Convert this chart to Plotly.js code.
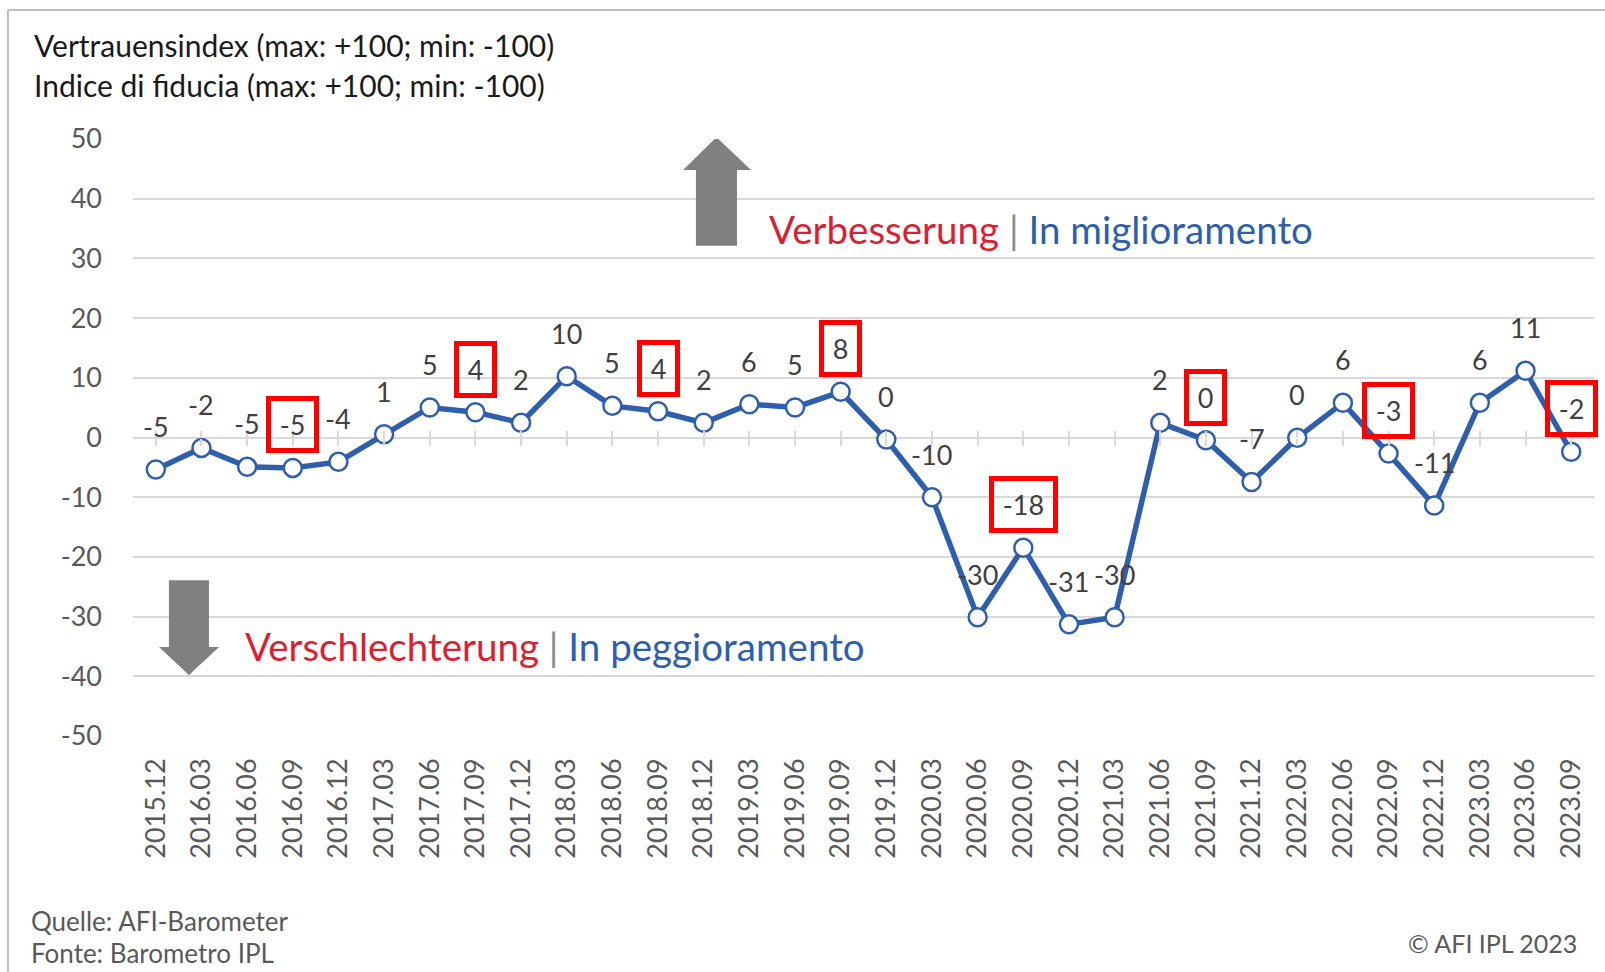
<!DOCTYPE html>
<html><head><meta charset="utf-8">
<script src="https://cdn.plot.ly/plotly-3.0.1.min.js"></script>
<style>html,body{margin:0;padding:0;background:#fff;overflow:hidden}#chart{width:1605px;height:972px}</style>
</head><body><div id="chart"></div>
<script>
// ---- data ----
const quarters = ['2015.12','2016.03','2016.06','2016.09','2016.12','2017.03','2017.06','2017.09','2017.12',
  '2018.03','2018.06','2018.09','2018.12','2019.03','2019.06','2019.09','2019.12','2020.03','2020.06','2020.09',
  '2020.12','2021.03','2021.06','2021.09','2021.12','2022.03','2022.06','2022.09','2022.12','2023.03','2023.06','2023.09'];
const indexValues = [-5.36,-1.74,-4.92,-5.09,-4.08,0.55,5.03,4.24,2.45,
  10.27,5.3,4.4,2.45,5.58,5.03,7.65,-0.34,-10.0,-30.1,-18.45,
  -31.3,-30.1,2.45,-0.45,-7.44,-0.06,5.8,-2.7,-11.4,5.8,11.16,-2.4];
const dataLabels = ['-5','-2','-5','-5','-4','1','5','4','2',
  '10','5','4','2','6','5','8','0','-10','-30','-18',
  '-31','-30','2','0','-7','0','6','-3','-11','6','11','-2'];
const highlighted = ['2016.09','2017.09','2018.09','2019.09','2020.09','2021.09','2022.09','2023.09'];
const yTicks = [-50,-40,-30,-20,-10,0,10,20,30,40,50];

const FONT = 'Lato, "Source Sans Pro", "Noto Sans", sans-serif';
const BLUE = '#2f5faa';
const RED = '#dc1e32';

// category axis: annotation x given as category index (labels look numeric)
const labelAnns = quarters.map((q, i) => {
  const boxed = highlighted.includes(q);
  return {
    x: i, y: indexValues[i], xref: 'x', yref: 'y',
    text: boxed ? '\u200A' + dataLabels[i] + '\u200A' : dataLabels[i],
    showarrow: false, yshift: 43,
    font: {family: FONT, size: 27, color: '#404040'},
    bordercolor: boxed ? '#ff0000' : 'rgba(0,0,0,0)',
    borderwidth: boxed ? 5 : 0, borderpad: boxed ? 7 : 0
  };
});

const textAnns = [
  {xref:'paper', yref:'paper', x:-0.0692, y:1.1575, xanchor:'left', yanchor:'middle', showarrow:false,
   text:'Vertrauensindex (max: +100; min: -100)', font:{family:FONT, size:30, color:'#1a1a1a'}},
  {xref:'paper', yref:'paper', x:-0.0692, y:1.0905, xanchor:'left', yanchor:'middle', showarrow:false,
   text:'Indice di fiducia (max: +100; min: -100)', font:{family:FONT, size:30, color:'#1a1a1a'}},
  {xref:'paper', yref:'y', x:0.4340, y:35.0, xanchor:'left', yanchor:'middle', showarrow:false,
   text:'<span style="color:'+RED+'">Verbesserung</span><span style="color:#8c8c8c"> | </span><span style="color:'+BLUE+'">In miglioramento</span>',
   font:{family:FONT, size:38.5}},
  {xref:'paper', yref:'y', x:0.0752, y:-35.0, xanchor:'left', yanchor:'middle', showarrow:false,
   text:'<span style="color:'+RED+'">Verschlechterung</span><span style="color:#8c8c8c"> | </span><span style="color:'+BLUE+'">In peggioramento</span>',
   font:{family:FONT, size:38.5}},
  {xref:'paper', yref:'paper', x:-0.0712, y:-0.3099, xanchor:'left', yanchor:'middle', showarrow:false,
   text:'Quelle: AFI-Barometer', font:{family:FONT, size:26, color:'#595959'}},
  {xref:'paper', yref:'paper', x:-0.0712, y:-0.3936, xanchor:'left', yanchor:'bottom', showarrow:false,
   text:'Fonte: Barometro IPL', font:{family:FONT, size:26, color:'#595959'}},
  {xref:'paper', yref:'paper', x:0.9897, y:-0.3467, xanchor:'right', yanchor:'middle', showarrow:false,
   text:'© AFI IPL 2023', font:{family:FONT, size:25, color:'#595959'}}
];

const shapes = [
  // frame
  {type:'line', xref:'paper', yref:'paper', x0:-0.0856, x1:1.01, y0:1.2161, y1:1.2161, line:{color:'#bfbfbf', width:2}},
  {type:'line', xref:'paper', yref:'paper', x0:-0.0856, x1:-0.0856, y0:1.2161, y1:-0.40, line:{color:'#bfbfbf', width:2}},
  // up arrow
  {type:'path', xref:'paper', yref:'y', fillcolor:'#808080', line:{width:0},
   path:'M0.3853,32.1 L0.4134,32.1 L0.4134,44.8 L0.4230,44.8 L0.3994,50.3 L0.3765,44.8 L0.3853,44.8 Z'},
  // down arrow
  {type:'path', xref:'paper', yref:'y', fillcolor:'#808080', line:{width:0},
   path:'M0.0246,-23.9 L0.0520,-23.9 L0.0520,-35.1 L0.0589,-35.1 L0.0383,-39.8 L0.0178,-35.1 L0.0246,-35.1 Z'}
];

const traces = [
  {x: quarters, y: indexValues, type:'scatter', mode:'lines+markers', xaxis:'x2', yaxis:'y',
   line:{color:'rgba(0,0,0,0)', width:0}, marker:{opacity:0}, hoverinfo:'skip', showlegend:false},
  {x: quarters, y: indexValues, type:'scatter', mode:'lines+markers', xaxis:'x3', yaxis:'y',
   line:{color:'rgba(0,0,0,0)', width:0}, marker:{opacity:0}, hoverinfo:'skip', showlegend:false},
  {x: quarters, y: indexValues, type:'scatter', mode:'lines+markers', xaxis:'x', yaxis:'y',
   line:{color:BLUE, width:5.5}, marker:{size:18, color:'#ffffff', line:{color:BLUE, width:2.5}},
   hoverinfo:'skip', showlegend:false}
];

const tickAxis = (dir) => ({type:'category', overlaying:'x', anchor:'free', position:0.5, matches:'x',
  ticks:dir, ticklen:7, tickwidth:2, tickcolor:'#d9d9d9', showticklabels:false, showgrid:false,
  showline:false, zeroline:false});

const layout = {
  width:1605, height:972,
  margin:{l:133, r:11, t:139, b:236, pad:0},
  paper_bgcolor:'#ffffff', plot_bgcolor:'#ffffff',
  showlegend:false,
  font:{family:FONT, color:'#595959'},
  xaxis:{type:'category', categoryorder:'array', categoryarray:quarters, range:[-0.5, quarters.length-0.5],
    tickangle:-90, tickfont:{family:FONT, size:27, color:'#595959'}, showgrid:false, zeroline:false,
    showline:false, ticks:'', ticklabelstandoff:16},
  xaxis2: tickAxis('outside'),
  xaxis3: tickAxis('inside'),
  yaxis:{range:[-50,50], tickvals:yTicks, ticktext:yTicks.map(String), showgrid:true, gridcolor:'#d9d9d9', gridwidth:2,
    zeroline:true, zerolinecolor:'#d9d9d9', zerolinewidth:2, showline:false, ticks:'',
    tickfont:{family:FONT, size:27, color:'#595959'}, ticklabelstandoff:30},
  annotations: textAnns.concat(labelAnns),
  shapes: shapes
};

Plotly.newPlot('chart', traces, layout, {staticPlot:true, displayModeBar:false});
</script>
</body></html>
